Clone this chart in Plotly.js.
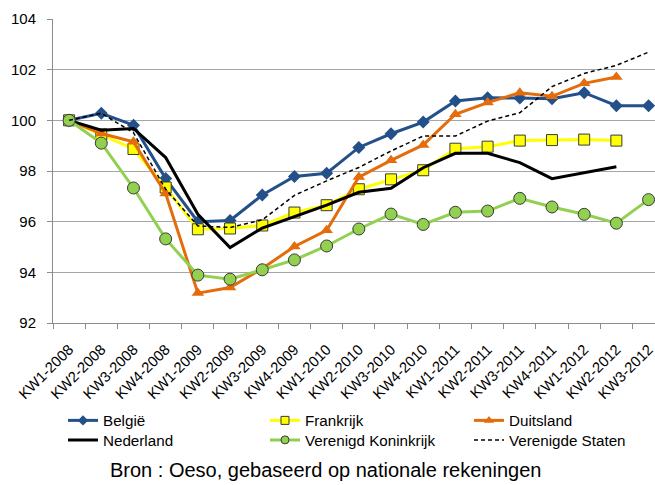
<!DOCTYPE html>
<html>
<head>
<meta charset="utf-8">
<script src="https://cdn.plot.ly/plotly-3.0.1.min.js"></script>
<style>html,body{margin:0;padding:0;background:#fff;}#chart{width:655px;height:485px;}</style>
</head>
<body>
<div id="chart"></div>
<script>
var categories = ['KW1-2008','KW2-2008','KW3-2008','KW4-2008','KW1-2009','KW2-2009','KW3-2009','KW4-2009','KW1-2010','KW2-2010','KW3-2010','KW4-2010','KW1-2011','KW2-2011','KW3-2011','KW4-2011','KW1-2012','KW2-2012','KW3-2012'];
var belgie    = [100.0, 100.28, 99.81, 97.70, 96.00, 96.05, 97.05, 97.78, 97.91, 98.93, 99.47, 99.93, 100.76, 100.89, 100.88, 100.85, 101.09, 100.58, 100.58];
var frankrijk = [100.0, 99.45, 98.87, 97.35, 95.70, 95.73, 95.85, 96.36, 96.65, 97.28, 97.67, 98.03, 98.88, 98.96, 99.20, 99.22, 99.24, 99.20, null];
var duitsland = [100.0, 99.48, 99.15, 97.11, 93.18, 93.40, 94.15, 95.02, 95.66, 97.76, 98.42, 99.03, 100.24, 100.70, 101.09, 100.95, 101.46, 101.71, null];
var nederland = [100.0, 99.61, 99.68, 98.53, 96.29, 94.98, 95.75, 96.21, 96.65, 97.16, 97.32, 98.13, 98.70, 98.70, 98.33, 97.70, 97.94, 98.17, null];
var verenigdKoninkrijk = [100.0, 99.10, 97.33, 95.32, 93.89, 93.73, 94.10, 94.49, 95.04, 95.71, 96.30, 95.89, 96.37, 96.42, 96.92, 96.58, 96.29, 95.94, 96.87];
var verenigdeStaten = [100.0, 100.28, 99.51, 97.28, 95.83, 95.77, 96.07, 97.04, 97.61, 98.14, 98.79, 99.38, 99.38, 99.97, 100.30, 101.33, 101.85, 102.17, 102.69];
var seriesNames = ['België', 'Frankrijk', 'Duitsland', 'Nederland', 'Verenigd Koninkrijk', 'Verenigde Staten'];
var yTicks = [92, 94, 96, 98, 100, 102, 104];
var sourceText = 'Bron : Oeso, gebaseerd op nationale rekeningen';

var FONT = '"Liberation Sans", Arial, sans-serif';

var styles = [
  {mode: 'lines+markers', line: {color: '#24508A', width: 3}, marker: {symbol: 'diamond', size: 10, color: '#24508A'}, legSize: 8},
  {mode: 'lines+markers', line: {color: '#FFFF00', width: 3}, marker: {symbol: 'square', size: 11, color: '#FFFF00', line: {color: '#3a3a3a', width: 1}}, legSize: 8},
  {mode: 'lines+markers', line: {color: '#E46C0A', width: 3}, marker: {symbol: 'triangle-up', size: 11, color: '#E46C0A'}, legSize: 9},
  {mode: 'lines', line: {color: '#000000', width: 3}},
  {mode: 'lines+markers', line: {color: '#92D050', width: 3}, marker: {symbol: 'circle', size: 12, color: '#92D050', line: {color: '#3a3a3a', width: 1}}, legSize: 8},
  {mode: 'lines', line: {color: '#000000', width: 1.5, dash: '4px,3px'}}
];
var seriesValues = [belgie, frankrijk, duitsland, nederland, verenigdKoninkrijk, verenigdeStaten];
var legendIds = ['legend', 'legend2', 'legend3', 'legend4', 'legend5', 'legend6'];

var traces = [];
// data traces (no legend entry)
seriesValues.forEach(function (vals, i) {
  var s = styles[i];
  var t = {name: seriesNames[i], x: categories, y: vals, type: 'scatter', mode: s.mode, line: s.line, showlegend: false};
  if (s.marker) t.marker = s.marker;
  traces.push(t);
});
// legend entries (no data drawn) with smaller symbols like the original legend
seriesValues.forEach(function (vals, i) {
  var s = styles[i];
  var t = {name: seriesNames[i], x: [null], y: [null], type: 'scatter', mode: s.mode, line: s.line,
           showlegend: true, legend: legendIds[i], hoverinfo: 'skip'};
  if (s.marker) t.marker = Object.assign({}, s.marker, {size: s.legSize});
  traces.push(t);
});

function leg(xpx, ypx) {
  return {orientation: 'v', xref: 'container', yref: 'container', x: xpx / 655, y: 1 - ypx / 485,
          xanchor: 'left', yanchor: 'top', bgcolor: 'rgba(0,0,0,0)', borderwidth: 0,
          font: {family: FONT, size: 15.2, color: '#000'}, itemwidth: 30};
}

var layout = {
  width: 655, height: 485,
  margin: {l: 53, r: 0, t: 19, b: 162, pad: 0, autoexpand: false},
  paper_bgcolor: '#ffffff', plot_bgcolor: '#ffffff',
  font: {family: FONT, size: 14.5, color: '#000'},
  showlegend: true,
  xaxis: {
    type: 'category', categoryarray: categories, categoryorder: 'array', range: [-0.5, 18.2], tickangle: -45,
    tickson: 'boundaries', automargin: false,
    ticks: 'outside', ticklen: 5, tickcolor: '#8c8c8c', showline: true, linecolor: '#8c8c8c', linewidth: 1,
    showgrid: false, zeroline: false, ticklabelstandoff: 11, tickfont: {family: FONT, size: 14.8, color: '#000'}
  },
  yaxis: {
    range: [92, 104], tickvals: yTicks, ticktext: yTicks.map(String), ticks: 'outside', ticklen: 5, automargin: false,
    tickcolor: '#8c8c8c', showline: true, linecolor: '#8c8c8c', linewidth: 1,
    showgrid: true, gridcolor: '#a6a6a6', gridwidth: 1, zeroline: false, ticklabelstandoff: 8,
    tickfont: {family: FONT, size: 15, color: '#000'}
  },
  legend: leg(63, 404),
  legend2: leg(265, 404),
  legend3: leg(469, 404),
  legend4: leg(63, 423.5),
  legend5: leg(265, 423.5),
  legend6: leg(469, 423.5),
  annotations: [{
    text: sourceText, xref: 'paper', yref: 'paper', x: (325.5 - 53) / 602, y: (323 - 470) / 304,
    xanchor: 'center', yanchor: 'middle', showarrow: false, font: {family: FONT, size: 20, color: '#000'}
  }]
};

Plotly.newPlot('chart', traces, layout, {displayModeBar: false, staticPlot: true});
</script>
</body>
</html>
